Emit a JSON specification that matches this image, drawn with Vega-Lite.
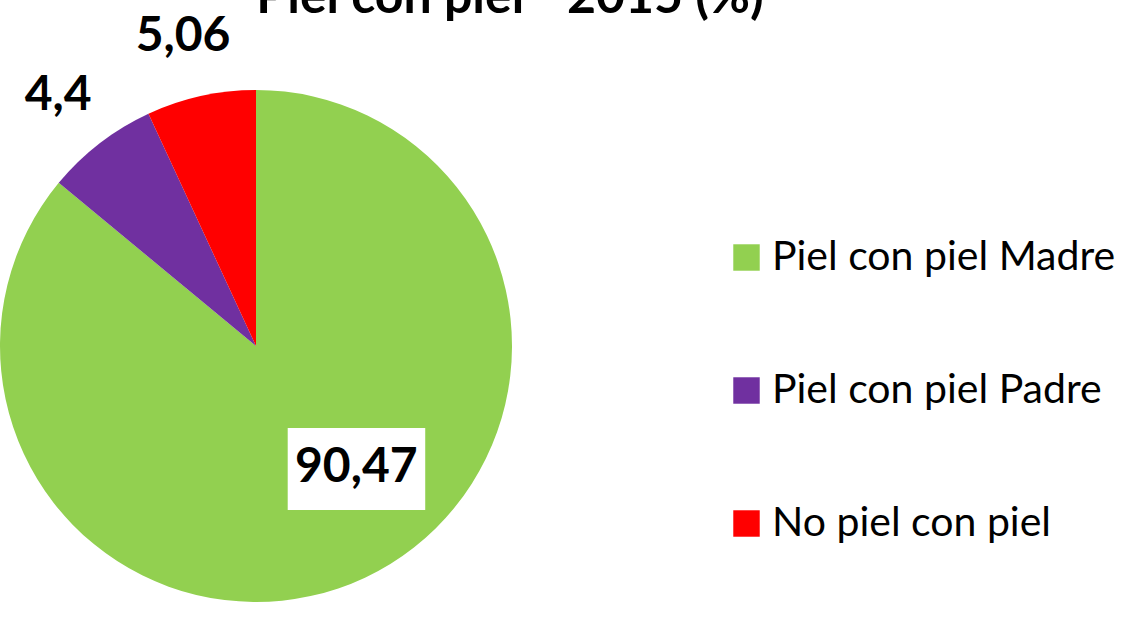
{
  "$schema": "https://vega.github.io/schema/vega-lite/v6.json",
  "autosize": "none",
  "width": 512,
  "height": 542,
  "padding": {"top": 75, "left": 0, "right": 617, "bottom": 0},
  "background": "white",
  "title": {
    "text": "Piel con piel - 2015 (%)",
    "font": "Lato",
    "fontSize": 50,
    "fontWeight": "bold",
    "color": "black",
    "anchor": "middle",
    "dx": 254,
    "offset": -10
  },
  "data": {
    "values": [
      {"categoria": "Piel con piel Madre", "porcion": 86.0, "etiqueta": "90,47", "orden": 1},
      {"categoria": "Piel con piel Padre", "porcion": 7.1, "etiqueta": "4,4", "orden": 2},
      {"categoria": "No piel con piel", "porcion": 6.9, "etiqueta": "5,06", "orden": 3}
    ]
  },
  "encoding": {
    "theta": {"field": "porcion", "type": "quantitative", "stack": true},
    "order": {"field": "orden", "type": "quantitative"}
  },
  "layer": [
    {
      "mark": {"type": "arc", "radius": 256},
      "encoding": {
        "color": {
          "field": "categoria",
          "type": "nominal",
          "scale": {
            "domain": ["Piel con piel Madre", "Piel con piel Padre", "No piel con piel"],
            "range": ["#92D050", "#7030A0", "#FF0000"]
          },
          "legend": {
            "title": null,
            "orient": "none",
            "legendX": 726,
            "legendY": 162,
            "symbolType": "square",
            "symbolSize": 700,
            "symbolStrokeWidth": 0,
            "symbolOpacity": 1,
            "labelFont": "Lato",
            "labelFontSize": 41,
            "labelColor": "black",
            "labelOffset": 5,
            "rowPadding": 91,
            "labelLimit": 500
          }
        }
      }
    },
    {
      "transform": [{"filter": "datum.orden == 1"}],
      "mark": {"type": "text", "radius": 158, "dx": 18, "dy": -17, "font": "DejaVu Sans", "fontSize": 69, "color": "white", "align": "center", "baseline": "middle"},
      "encoding": {"text": {"value": "██"}}
    },
    {
      "transform": [{"filter": "datum.orden == 1"}],
      "mark": {"type": "text", "radius": 158, "dx": 48, "dy": -17, "font": "DejaVu Sans", "fontSize": 69, "color": "white", "align": "center", "baseline": "middle"},
      "encoding": {"text": {"value": "██"}}
    },
    {
      "transform": [{"filter": "datum.orden == 1"}],
      "mark": {"type": "text", "radius": 158, "dx": 33, "dy": -21, "font": "Lato", "fontSize": 48, "fontWeight": "bold", "color": "black", "align": "center", "baseline": "middle"},
      "encoding": {"text": {"field": "etiqueta"}}
    },
    {
      "mark": {"type": "text", "radius": 316, "dx": -5, "font": "Lato", "fontSize": 48, "fontWeight": "bold", "color": "black", "align": "center", "baseline": "middle"},
      "encoding": {
        "text": {"condition": {"test": "datum.orden == 1", "value": ""}, "field": "etiqueta"}
      }
    }
  ]
}
